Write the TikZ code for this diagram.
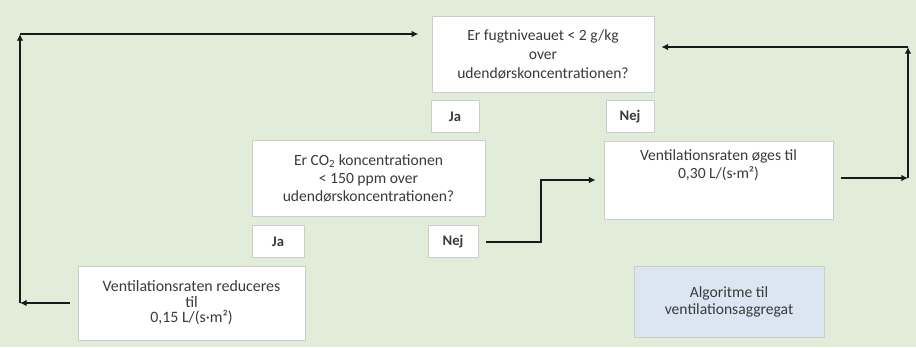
\documentclass[tikz,border=0pt]{standalone}
\usepackage{fontspec}
\setmainfont{Carlito}
\usepackage{tikz}
\usetikzlibrary{arrows.meta,positioning}
\definecolor{bggreen}{HTML}{E2EDD9}
\definecolor{boxline}{HTML}{CDCDCD}
\definecolor{algoblue}{HTML}{DCE5F2}
\definecolor{txtgray}{HTML}{3A3A3A}

\begin{document}
\begin{tikzpicture}[x=0.75pt, y=-0.75pt, node distance=5.25pt]
	\tikzstyle{box} = [rectangle, draw=boxline, fill=white, line width=0.6pt, align=center, inner sep=2pt, text=txtgray, font=\fontsize{11.7}{13.5}\selectfont]
	\tikzstyle{answer} = [box, minimum width=36pt, minimum height=24pt, font=\fontsize{11}{13}\selectfont\bfseries]
	\tikzstyle{arr} = [-{Latex[length=5pt,width=5pt]}, line width=1.6pt, draw=black!90]

	\useasboundingbox[fill=bggreen] (0,0) rectangle (916,347);

	\node[box, minimum width=166.5pt, minimum height=57pt, font=\fontsize{11.7}{14.25}\selectfont](fugt) at (543,54.5)
		{Er fugtniveauet < 2 g/kg\\over\\udendørskoncentrationen?};
	\node[answer, anchor=north west, below right=5.25pt and -0.75pt of fugt.south west](ja1){Ja};
	\node[answer, anchor=north east, below left=5.25pt and 0pt of fugt.south east](nej1){Nej};

	\node[box, minimum width=174.75pt, minimum height=57pt, font=\fontsize{11.7}{13.5}\selectfont](co2) at (368.5,178)
		{Er CO\textsubscript{2} koncentrationen\\< 150 ppm over\\udendørskoncentrationen?};
	\node[answer, minimum width=39pt, below right=6.75pt and 0pt of co2.south west](ja2){Ja};
	\node[answer, minimum width=37.5pt, below left=6.75pt and 5.25pt of co2.south east](nej2){Nej};

	\node[box, minimum width=171.75pt, minimum height=58.5pt,
		label={[text=txtgray, align=center, font=\fontsize{11.7}{14}\selectfont, anchor=north, yshift=-3pt]north:{Ventilationsraten øges til\\0,30 L/(s·m²)}}](oeges) at (718.5,180) {};
	\node[box, minimum width=170.25pt, minimum height=55.5pt, font=\fontsize{11.9}{11.6}\selectfont](reduc) at (191.5,303)
		{Ventilationsraten reduceres\\til\\0,15 L/(s·m²)};
	\node[box, fill=algoblue, minimum width=142.5pt, minimum height=53.25pt, font=\fontsize{11.7}{12.75}\selectfont](algo) at (729,301.5)
		{Algoritme til\\ventilationsaggregat};

	% loop back on the left
	\coordinate (lb) at (20,303);
	\coordinate (lt) at (20,34);
	\draw[arr, shorten <=6pt] (reduc.west) -- (lb);
	\draw[arr] (lb) -- (lt);
	\draw[arr, shorten >=10pt] (lt) -- (lt -| fugt.west);

	% loop back on the right
	\coordinate (rb) at (908,178);
	\coordinate (rt) at (908,47);
	\draw[arr, shorten <=6pt] (oeges.east |- rb) -- (rb);
	\draw[arr] (rb) -- (rt);
	\draw[arr, shorten >=5.25pt] (rt) -- (rt -| fugt.east);

	\draw[arr, shorten <=6pt, shorten >=6pt] (nej2.east) -- ++(63,0) |- (oeges.west);
\end{tikzpicture}
\end{document}
